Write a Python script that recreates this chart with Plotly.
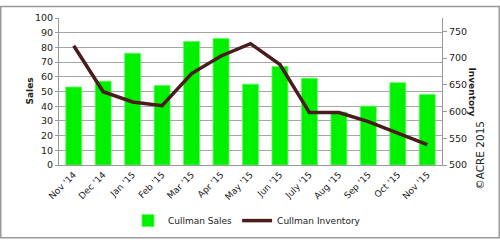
import plotly.graph_objects as go

months = ["Nov '14", "Dec '14", "Jan '15", "Feb '15", "Mar '15", "Apr '15", "May '15",
          "Jun '15", "July '15", "Aug '15", "Sep '15", "Oct '15", "Nov '15"]
sales = [53, 57, 76, 54, 84, 86, 55, 67, 59, 36, 40, 56, 48]
inventory = [723, 637, 618, 611, 671, 704, 727, 688, 598, 598, 581, 560, 538]

FONT = "DejaVu Sans"
fig = go.Figure()
fig.add_trace(go.Bar(x=months, y=sales, name="Cullman Sales",
                     marker=dict(color="#00f000", line=dict(color="#55ff55", width=0.8))))
fig.add_trace(go.Scatter(x=months, y=inventory, name="Cullman Inventory", yaxis="y2",
                         mode="lines", line=dict(color="#4a1c1c", width=3.5)))

W, H = 500, 247
L, R, T, B = 59, 442, 13, 169
pw, ph = R - L, B - T

def px(x):
    return (x - L) / pw

def py(y):
    return (B - y) / ph

fig.update_layout(
    width=W, height=H,
    margin=dict(l=L, r=W - R, t=T, b=H - B),
    paper_bgcolor="white", plot_bgcolor="white",
    font=dict(family=FONT, size=9.5, color="#222"),
    bargap=0.46,
    showlegend=True,
    legend=dict(orientation="h", x=px(247), xanchor="center", y=py(228), yanchor="middle",
                font=dict(size=9, color="#222"), itemwidth=30, tracegroupgap=0),
    xaxis=dict(tickangle=-45, showline=True, linecolor="#999", linewidth=1,
               ticks="", showgrid=False, tickfont=dict(size=9)),
    yaxis=dict(range=[0, 100], dtick=10, showline=True, linecolor="#999", linewidth=1,
               gridcolor="#a6a6a6", gridwidth=1, ticks="outside", ticklen=3,
               tickcolor="#999", zeroline=False),
    yaxis2=dict(range=[500, 775], tickvals=[500, 550, 600, 650, 700, 750], overlaying="y",
                side="right", showline=True, linecolor="#999", linewidth=1, showgrid=False,
                ticks="outside", ticklen=4, tickcolor="#999", zeroline=False),
    shapes=[dict(type="rect", xref="paper", yref="paper",
                 x0=px(0.75), x1=px(499.25), y0=py(246.25), y1=py(0.75),
                 line=dict(color="#999", width=1.5))],
    annotations=[
        dict(text="<b>Sales</b>", xref="paper", yref="paper", x=px(22), y=py(91),
             showarrow=False, textangle=-90, font=dict(size=9, color="#222")),
        dict(text="<b>Inventory</b>", xref="paper", yref="paper", x=px(479), y=py(91),
             showarrow=False, textangle=90, font=dict(size=9, color="#222")),
        dict(text="©ACRE 2015", xref="paper", yref="paper", x=px(488), y=py(198),
             showarrow=False, textangle=-90, font=dict(size=10.5, color="#222")),
    ],
)

fig.write_html("out.html")
